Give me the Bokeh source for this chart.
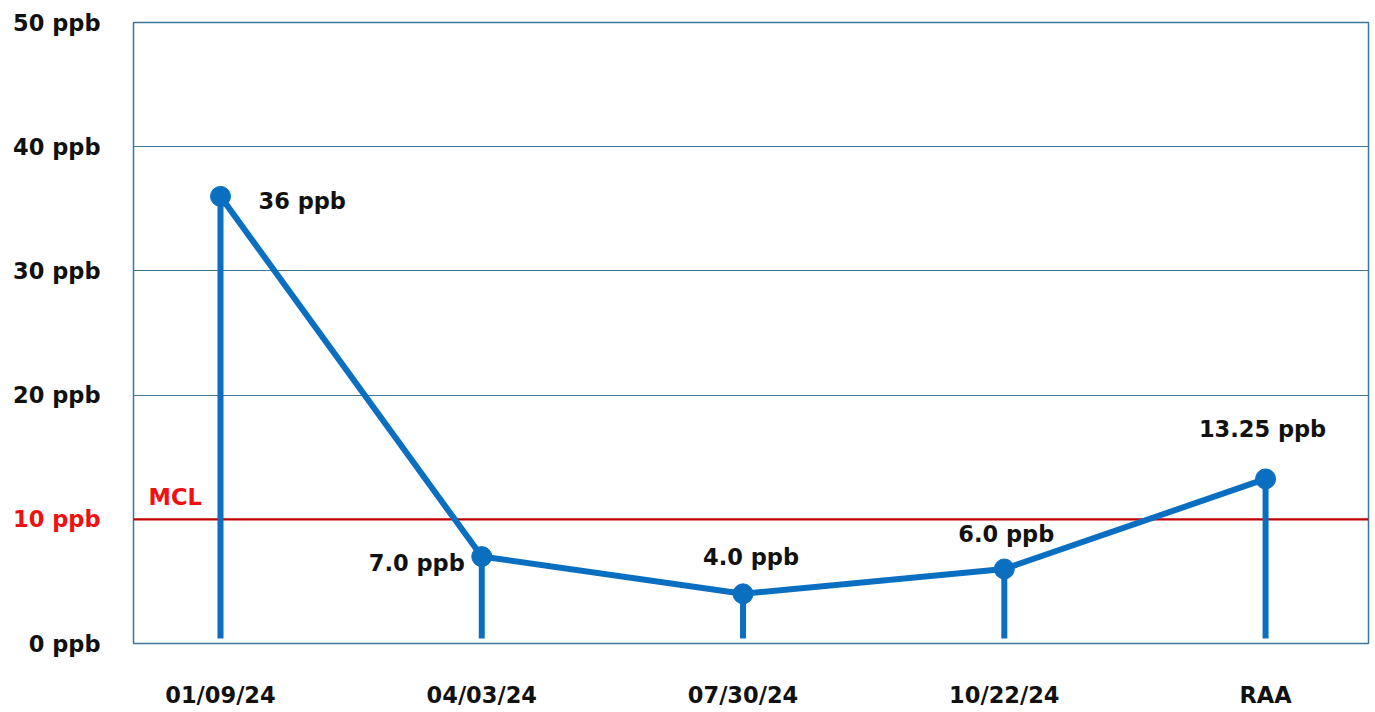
from bokeh.plotting import figure
from bokeh.models import Range1d, FixedTicker, LinearAxis
from bokeh.core.properties import value
from bokeh.embed import file_html
from bokeh.resources import INLINE

# ---- data ----
categories = ["01/09/24", "04/03/24", "07/30/24", "10/22/24", "RAA"]
values = [36, 7.0, 4.0, 6.0, 13.25]
value_labels = ["36 ppb", "7.0 ppb", "4.0 ppb", "6.0 ppb", "13.25 ppb"]
y_ticks = [0, 10, 20, 30, 40, 50]
y_tick_labels = ["0 ppb", "10 ppb", "20 ppb", "30 ppb", "40 ppb", "50 ppb"]
mcl_value = 10
mcl_text = "MCL"

# ---- style ----
FONT = "DejaVu Sans"
FSIZE = "22.5px"
BLUE = "#0B6FC1"
GRID = "#3F7596"
RED_LINE = "#C00000"
RED_TEXT = "#F01010"
TXT = "#111111"

xs = list(range(len(categories)))
x_start, x_end = -0.333, len(categories) - 1 + 0.394

p = figure(width=1372, height=710, output_backend="svg", toolbar_location=None,
           x_range=Range1d(x_start, x_end), y_range=Range1d(0, 50),
           min_border_left=133, min_border_right=4, min_border_top=22, min_border_bottom=60)
p.background_fill_color = "white"
p.border_fill_color = "white"
p.outline_line_color = GRID
p.outline_line_width = 1.5


def style_axis(ax, color, standoff):
    ax.major_label_text_font = FONT
    ax.major_label_text_font_style = "bold"
    ax.major_label_text_font_size = FSIZE
    ax.major_label_text_color = color
    ax.major_label_standoff = standoff
    ax.axis_line_color = None
    ax.major_tick_line_color = None
    ax.minor_tick_line_color = None
    ax.major_tick_out = 0
    ax.major_tick_in = 0
    ax.minor_tick_out = 0
    ax.minor_tick_in = 0


# main y axis (black labels; the MCL level gets its own red axis)
p.yaxis.ticker = FixedTicker(ticks=y_ticks)
p.yaxis.major_label_overrides = {t: (l if t != mcl_value else "") for t, l in zip(y_ticks, y_tick_labels)}
for ax in p.yaxis:
    style_axis(ax, TXT, 33)

# red y axis label for the MCL level: an outer left axis whose negative standoff
# pulls its label back over the main axis column
red_axis = LinearAxis(ticker=FixedTicker(ticks=[mcl_value]),
                      major_label_overrides={mcl_value: y_tick_labels[y_ticks.index(mcl_value)]})
style_axis(red_axis, RED_TEXT, -90)
p.add_layout(red_axis, "left")

p.xaxis.ticker = FixedTicker(ticks=xs)
p.xaxis.major_label_overrides = {i: c for i, c in zip(xs, categories)}
for ax in p.xaxis:
    style_axis(ax, TXT, 38)

p.xgrid.grid_line_color = None
p.ygrid.ticker = FixedTicker(ticks=y_ticks)
p.ygrid.grid_line_color = GRID
p.ygrid.grid_line_width = 1.2

# MCL line
p.line(x=[x_start, x_end], y=[mcl_value, mcl_value], line_color=RED_LINE, line_width=2.2)
p.text(x=[x_start], y=[mcl_value], text=[mcl_text], x_offset=15, y_offset=-9,
       text_baseline="bottom", text_align="left", text_color=RED_TEXT,
       text_font=value(FONT), text_font_style="bold", text_font_size=FSIZE)

# stems
p.segment(x0=xs, y0=[0.4] * len(xs), x1=xs, y1=values, line_color=BLUE, line_width=6)
# line + markers
p.line(x=xs, y=values, line_color=BLUE, line_width=6, line_join="round")
p.scatter(x=xs, y=values, size=20, fill_color=BLUE, line_color=BLUE)

# value labels
x_off = [38, -17, 8, 2, -3]
y_off = [5, 6, -37, -35, -50]
aligns = ["left", "right", "center", "center", "center"]
p.text(x=xs, y=values, text=value_labels, x_offset=x_off, y_offset=y_off,
       text_align=aligns, text_baseline="middle", text_color=TXT,
       text_font=value(FONT), text_font_style="bold", text_font_size=FSIZE)

open("out.html", "w").write(file_html(p, INLINE))
